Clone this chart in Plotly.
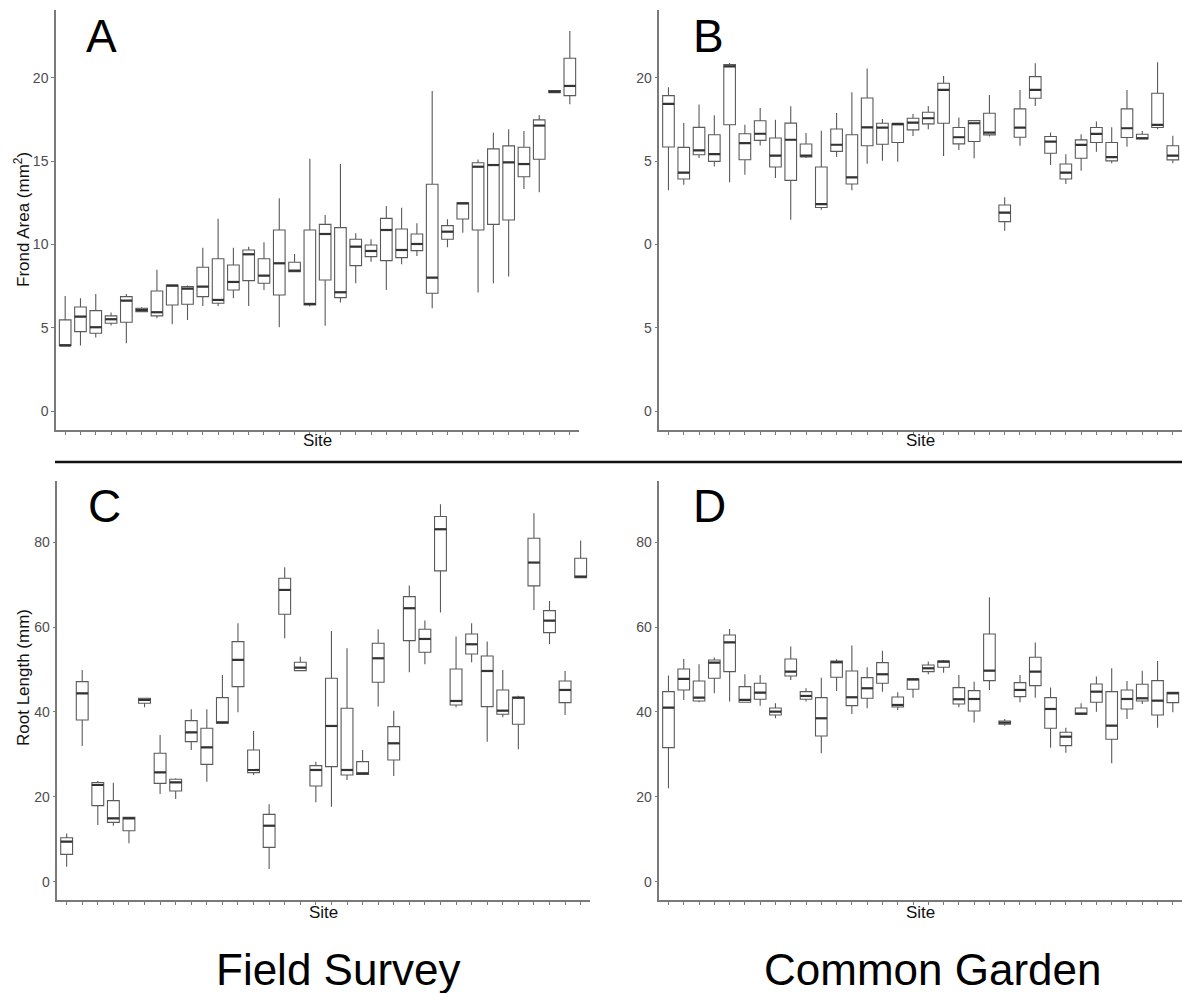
import plotly.graph_objects as go

# ---- data: one box per site (34 sites per panel) ----
sites = list(range(1, 35))

# Panel A: Field Survey, frond area (mm^2)
a_lo = [3.93, 3.93, 4.41, 5.13, 4.07, 5.97, 5.57, 5.21, 5.47, 6.31, 6.31, 6.77, 6.31, 7.27, 5.03, 8.37, 6.27,
        5.12, 6.51, 7.67, 8.97, 7.27, 8.81, 9.31, 6.17, 9.83, 10.71, 7.11, 7.67, 8.07, 13.33, 13.14, 19.12, 18.42]
a_q1 = [3.93, 4.77, 4.67, 5.27, 5.33, 5.97, 5.71, 6.37, 6.41, 6.87, 6.47, 7.27, 7.83, 7.67, 6.97, 8.37, 6.37,
        7.87, 6.81, 8.73, 9.27, 9.03, 9.21, 9.63, 7.07, 10.31, 11.53, 10.87, 11.21, 11.47, 14.07, 15.12, 19.12, 18.94]
a_med = [3.93, 5.67, 5.03, 5.51, 6.63, 6.07, 5.93, 7.53, 7.35, 7.47, 6.67, 7.75, 9.41, 8.13, 8.87, 8.43, 6.43,
         10.63, 7.13, 9.87, 9.61, 10.87, 9.67, 10.03, 8.01, 10.77, 12.47, 14.67, 14.77, 14.93, 14.83, 17.14, 19.18, 19.52]
a_q3 = [5.47, 6.25, 6.03, 5.71, 6.87, 6.17, 7.21, 7.57, 7.47, 8.63, 9.14, 8.77, 9.67, 9.14, 10.87, 8.93, 10.87,
        11.21, 11.01, 10.31, 9.97, 11.57, 10.93, 10.63, 13.62, 11.13, 12.51, 14.91, 15.74, 15.92, 15.84, 17.48, 19.24, 21.18]
a_hi = [6.91, 6.77, 7.03, 5.91, 7.03, 6.23, 8.48, 7.57, 7.53, 9.81, 11.54, 9.81, 9.87, 10.13, 12.77, 9.43, 15.15,
        11.77, 14.83, 10.67, 10.31, 12.31, 12.21, 11.27, 19.22, 11.51, 12.51, 15.11, 16.71, 16.92, 16.82, 17.78, 19.24, 22.82]

# Panel B: Common Garden, frond area
b_lo = [13.25, 13.59, 15.19, 14.69, 13.73, 14.19, 15.95, 13.99, 11.48, 15.19, 12.08, 15.25, 13.25, 14.85, 15.03, 14.97, 16.52,
        16.92, 15.32, 15.68, 15.18, 16.48, 10.83, 15.93, 18.32, 14.77, 13.63, 14.43, 15.57, 14.88, 15.87, 16.34, 16.92, 14.88]
b_q1 = [15.85, 13.93, 15.39, 14.99, 17.19, 15.09, 16.25, 14.65, 13.85, 15.25, 12.22, 15.59, 13.63, 15.93, 16.02, 16.12, 16.88,
        17.24, 17.28, 16.04, 16.18, 16.58, 11.37, 16.44, 18.78, 15.48, 13.93, 15.18, 16.12, 15.02, 16.42, 16.34, 17.02, 15.08]
b_med = [18.44, 14.31, 15.65, 15.43, 20.70, 16.09, 16.65, 15.33, 16.29, 15.33, 12.42, 15.99, 14.03, 17.03, 17.02, 17.24, 17.32,
         17.58, 19.28, 16.44, 17.28, 16.72, 11.91, 17.02, 19.28, 16.18, 14.31, 15.98, 16.64, 15.24, 16.98, 16.38, 17.18, 15.33]
b_q3 = [18.94, 15.83, 17.03, 16.59, 20.80, 16.65, 17.43, 16.39, 17.29, 16.03, 14.65, 16.93, 16.59, 18.80, 17.28, 17.24, 17.58,
        17.94, 19.68, 17.02, 17.44, 17.88, 12.37, 18.14, 20.08, 16.48, 14.83, 16.28, 17.02, 16.12, 18.14, 16.62, 19.08, 15.93]
b_hi = [19.44, 17.29, 18.40, 17.76, 20.90, 17.19, 18.20, 17.49, 18.30, 16.69, 16.83, 17.90, 19.14, 20.56, 17.54, 17.24, 17.84,
        18.32, 20.12, 17.62, 17.44, 18.98, 12.83, 19.28, 20.88, 16.72, 15.42, 16.62, 17.38, 17.04, 19.28, 16.82, 20.94, 16.53]

# Panel C: Field Survey, root length (mm)
c_lo = [3.54, 31.98, 13.36, 13.20, 9.04, 41.10, 20.67, 19.49, 31.04, 23.58, 37.17, 39.92, 25.15, 2.99, 57.37, 49.66, 18.70,
        17.68, 23.97, 25.30, 41.26, 24.91, 49.35, 51.24, 63.42, 41.10, 51.71, 33.01, 38.74, 31.20, 64.05, 56.03, 39.29, 71.51]
c_q1 = [6.44, 38.11, 17.92, 13.99, 12.02, 42.04, 23.18, 21.38, 33.01, 27.66, 37.33, 45.97, 25.70, 8.09, 63.03, 49.74, 22.55,
        27.11, 25.15, 25.30, 46.99, 28.68, 56.82, 54.07, 73.24, 41.65, 53.67, 41.26, 39.45, 37.09, 69.71, 58.70, 42.20, 71.67]
c_med = [9.43, 44.40, 22.79, 14.93, 14.93, 42.83, 25.78, 23.42, 35.21, 31.67, 37.56, 52.26, 26.33, 13.20, 68.76, 50.45, 26.33,
         36.70, 26.33, 25.54, 52.65, 32.61, 64.44, 57.21, 83.06, 42.59, 55.95, 49.66, 40.31, 43.38, 75.21, 61.53, 45.19, 71.91]
c_q3 = [10.37, 47.15, 23.34, 19.10, 15.17, 43.22, 30.26, 24.13, 37.96, 36.15, 43.38, 56.58, 31.04, 15.87, 71.51, 51.71, 27.35,
        47.94, 40.86, 28.29, 56.19, 36.54, 67.19, 59.49, 86.05, 50.14, 58.39, 53.20, 45.19, 43.46, 80.94, 63.89, 47.31, 76.23]
c_hi = [11.39, 49.90, 23.73, 23.34, 15.32, 43.38, 34.58, 24.36, 40.63, 40.63, 48.72, 60.90, 35.52, 18.23, 74.11, 53.04, 28.29,
        59.10, 55.01, 31.04, 59.49, 40.31, 69.78, 61.53, 88.96, 57.76, 60.90, 56.58, 49.90, 43.85, 86.84, 66.17, 49.66, 80.39]

# Panel D: Common Garden, root length
d_lo = [22.00, 42.83, 42.28, 44.40, 42.44, 42.28, 41.49, 38.51, 47.54, 42.44, 30.26, 44.95, 39.53, 40.86, 44.79, 40.47, 43.38,
        48.88, 49.27, 41.10, 37.49, 45.19, 36.78, 42.28, 43.38, 31.59, 30.41, 39.45, 40.08, 27.90, 38.35, 41.89, 36.31, 39.92]
d_q1 = [31.59, 45.19, 42.59, 47.94, 49.51, 42.28, 42.99, 39.29, 48.49, 42.99, 34.34, 48.17, 41.49, 43.22, 46.76, 41.18, 45.34,
        49.51, 50.53, 41.89, 40.24, 47.39, 37.09, 43.61, 46.21, 36.15, 32.06, 39.45, 42.28, 33.56, 40.71, 42.59, 39.29, 42.20]
d_med = [41.02, 47.78, 43.38, 51.63, 56.42, 42.83, 44.56, 40.08, 49.51, 43.77, 38.51, 51.71, 43.46, 45.58, 48.88, 41.65, 47.70,
         50.29, 51.87, 42.99, 43.06, 49.74, 37.49, 45.19, 49.51, 40.71, 34.18, 39.61, 44.79, 36.78, 43.06, 43.22, 42.67, 44.40]
d_q3 = [44.79, 50.14, 47.31, 52.26, 58.15, 45.97, 46.76, 40.94, 52.50, 44.79, 43.38, 52.02, 49.66, 48.09, 51.63, 43.54, 47.78,
        51.08, 52.02, 45.74, 45.03, 58.39, 37.88, 46.92, 52.89, 43.38, 35.21, 40.94, 46.60, 44.79, 45.19, 46.52, 47.39, 44.64]
d_hi = [48.57, 52.50, 51.24, 52.81, 59.57, 48.88, 48.72, 42.04, 55.40, 45.58, 48.09, 52.42, 55.64, 50.53, 54.42, 44.64, 47.78,
        51.87, 52.26, 48.72, 47.15, 67.03, 38.35, 48.72, 56.35, 45.74, 36.31, 42.04, 48.33, 50.29, 47.31, 49.74, 52.02, 44.64]

# tick labels
area_ticks = [0, 5, 10, 15, 20]
area_labels_a = ["0", "5", "10", "15", "20"]
area_labels_b = ["0", "5", "0", "5", "20"]
root_ticks = [0, 20, 40, 60, 80]
root_labels = ["0", "20", "40", "60", "80"]

# ---- styling ----
W, H = 1182, 993
FONT = "Liberation Sans, Arial, Helvetica, sans-serif"
AXIS_GREY = "#7a7a7a"
TICK_TXT = "#4d4d4d"
BOX_LINE = "#5a5a5a"
MED_LINE = "#333333"
BOX_W = 0.76


def px_x(p):
    return p / W


def px_y(p):
    return 1 - p / H


panels = [
    # name, data, x-domain px, y-domain px (top, bottom), y-range, ticks, labels
    ("", (a_lo, a_q1, a_med, a_q3, a_hi), (56, 579), (10, 430), [-1.14, 24.08], area_ticks, area_labels_a),
    ("2", (b_lo, b_q1, b_med, b_q3, b_hi), (659.3, 1182), (10, 430), [-1.14, 24.08], area_ticks, area_labels_b),
    ("3", (c_lo, c_q1, c_med, c_q3, c_hi), (57.3, 590), (480.7, 900), [-4.31, 94.5], root_ticks, root_labels),
    ("4", (d_lo, d_q1, d_med, d_q3, d_hi), (659.3, 1182), (480.7, 900), [-4.31, 94.5], root_ticks, root_labels),
]

fig = go.Figure()
layout_axes = {}

for suffix, (lo, q1, med, q3, hi), (x0, x1), (yt, yb), yr, tv, tt in panels:
    xa = "x" + suffix
    ya = "y" + suffix
    fig.add_trace(go.Box(
        x=sites, q1=q1, median=med, q3=q3, lowerfence=lo, upperfence=hi,
        width=BOX_W, whiskerwidth=0, boxpoints=False,
        fillcolor="white", line=dict(color=BOX_LINE, width=1.1),
        xaxis=xa, yaxis=ya, showlegend=False, hoverinfo="skip",
    ))
    # heavier median bars, as in ggplot's fattened median
    mx, my = [], []
    for s, m in zip(sites, med):
        mx += [s - BOX_W / 2, s + BOX_W / 2, None]
        my += [m, m, None]
    fig.add_trace(go.Scatter(
        x=mx, y=my, mode="lines", line=dict(color=MED_LINE, width=2.2),
        xaxis=xa, yaxis=ya, showlegend=False, hoverinfo="skip",
    ))
    layout_axes["xaxis" + suffix] = dict(
        domain=[px_x(x0), min(px_x(x1), 1.0)], range=[0.4, 34.6], anchor=ya,
        showline=True, linecolor=AXIS_GREY, linewidth=1.5, mirror=False,
        showgrid=False, zeroline=False, tickvals=sites, showticklabels=False,
        ticks="outside", ticklen=3, tickwidth=1, tickcolor=AXIS_GREY, fixedrange=True,
    )
    layout_axes["yaxis" + suffix] = dict(
        domain=[px_y(yb), px_y(yt)], range=yr, anchor=xa,
        showline=True, linecolor=AXIS_GREY, linewidth=1.5,
        showgrid=False, zeroline=False, tickvals=tv, ticktext=tt,
        ticks="outside", ticklen=3, tickwidth=1, tickcolor=AXIS_GREY,
        tickfont=dict(family=FONT, size=14, color=TICK_TXT), fixedrange=True,
    )

annotations = []


def note(text, x, y, size, color="#111111", angle=0, xanchor="center", yanchor="middle"):
    annotations.append(dict(
        text=text, x=px_x(x), y=px_y(y), xref="paper", yref="paper",
        showarrow=False, textangle=angle, xanchor=xanchor, yanchor=yanchor,
        font=dict(family=FONT, size=size, color=color),
    ))


# panel letters
note("A", 84, 36, 46, "#000000", xanchor="left")
note("B", 691, 36, 46, "#000000", xanchor="left")
note("C", 86, 506, 46, "#000000", xanchor="left")
note("D", 691, 506, 46, "#000000", xanchor="left")

# axis titles
note("Frond Area (mm<sup>2</sup>)", 22, 220, 17, angle=-90)
note("Root Length (mm)", 23, 678, 17, angle=-90)
note("Site", 318, 441, 17)
note("Site", 921, 441, 17)
note("Site", 323, 912, 17)
note("Site", 921, 912, 17)

# section headings
note("Field Survey", 338, 969, 44, "#000000")
note("Common Garden", 932, 969, 44, "#000000")

# separator between the two rows of panels
shapes = [dict(type="line", xref="paper", yref="paper",
               x0=px_x(55), x1=1.0, y0=px_y(462), y1=px_y(462),
               line=dict(color="#111111", width=2.5))]

fig.update_layout(
    width=W, height=H, margin=dict(l=0, r=0, t=0, b=0),
    paper_bgcolor="white", plot_bgcolor="white",
    annotations=annotations, shapes=shapes,
    font=dict(family=FONT),
    **layout_axes,
)

fig.write_html("out.html", config={"displayModeBar": False})
